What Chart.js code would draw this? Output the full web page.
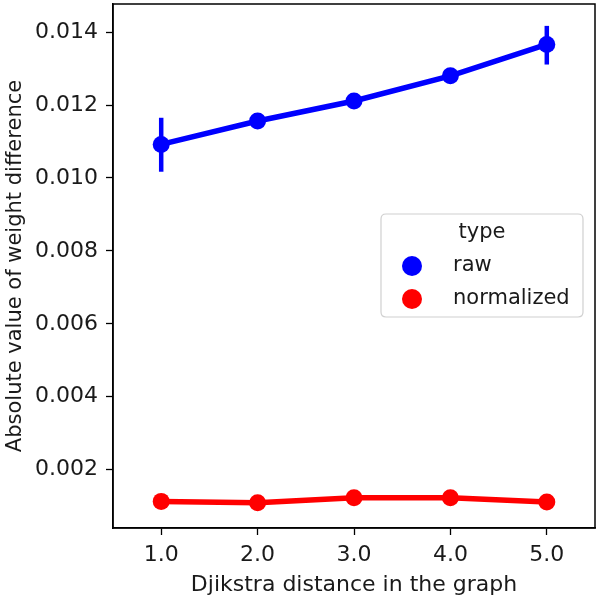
<!DOCTYPE html>
<html>
<head>
<meta charset="utf-8">
<script src="https://cdn.jsdelivr.net/npm/chart.js@4/dist/chart.umd.min.js"></script>
<style>
html,body{margin:0;padding:0;background:#fff;}
#wrap{width:600px;height:599px;position:relative;}
</style>
</head>
<body>
<div id="wrap"><canvas id="c" width="600" height="599"></canvas></div>
<script>
const categories = ['1.0', '2.0', '3.0', '4.0', '5.0'];
const rawValues = [0.01092, 0.01156, 0.01211, 0.01280, 0.01366];
const rawLow = [0.01017, null, null, null, 0.01311];
const rawHigh = [0.01165, null, null, null, 0.01417];
const normValues = [0.00113, 0.00109, 0.00123, 0.00123, 0.00111];
const yTicks = [0.002, 0.004, 0.006, 0.008, 0.010, 0.012, 0.014];
const legendTitle = 'type';
const xTitle = 'Djikstra distance in the graph';
const yTitle = 'Absolute value of weight difference';

const FONT = "'DejaVu Sans', sans-serif";
const TXT = '#1a1a1a';

const errorBars = {
  id: 'errorBars',
  afterDatasetsDraw(chart) {
    const ctx = chart.ctx;
    const xs = chart.scales.x, ys = chart.scales.y;
    ctx.save();
    ctx.strokeStyle = '#0000ff';
    ctx.lineWidth = 4.5;
    ctx.lineCap = 'butt';
    for (let i = 0; i < categories.length; i++) {
      if (rawLow[i] == null || rawHigh[i] == null) continue;
      const x = xs.getPixelForValue(i);
      ctx.beginPath();
      ctx.moveTo(x, ys.getPixelForValue(rawLow[i]));
      ctx.lineTo(x, ys.getPixelForValue(rawHigh[i]));
      ctx.stroke();
    }
    ctx.restore();
  }
};

const frameAndLegend = {
  id: 'frameAndLegend',
  afterDraw(chart) {
    const ctx = chart.ctx;
    const a = chart.chartArea;
    ctx.save();
    ctx.strokeStyle = '#000';
    ctx.lineWidth = 1.5;
    ctx.strokeRect(a.left, a.top, a.right - a.left, a.bottom - a.top);

    const bx = 381, by = 214, bw = 202, bh = 103, r = 5;
    ctx.beginPath();
    ctx.moveTo(bx + r, by);
    ctx.lineTo(bx + bw - r, by);
    ctx.quadraticCurveTo(bx + bw, by, bx + bw, by + r);
    ctx.lineTo(bx + bw, by + bh - r);
    ctx.quadraticCurveTo(bx + bw, by + bh, bx + bw - r, by + bh);
    ctx.lineTo(bx + r, by + bh);
    ctx.quadraticCurveTo(bx, by + bh, bx, by + bh - r);
    ctx.lineTo(bx, by + r);
    ctx.quadraticCurveTo(bx, by, bx + r, by);
    ctx.closePath();
    ctx.fillStyle = 'rgba(255,255,255,0.8)';
    ctx.fill();
    ctx.strokeStyle = '#d0d0d0';
    ctx.lineWidth = 1.2;
    ctx.stroke();

    ctx.fillStyle = TXT;
    ctx.font = '21px ' + FONT;
    ctx.textBaseline = 'middle';
    ctx.textAlign = 'center';
    ctx.fillText(legendTitle, 482, 233);
    ctx.textAlign = 'left';
    const rows = [266, 299];
    chart.data.datasets.forEach((ds, i) => {
      ctx.beginPath();
      ctx.arc(412, rows[i], 10, 0, Math.PI * 2);
      ctx.fillStyle = ds.borderColor;
      ctx.fill();
      ctx.fillStyle = TXT;
      ctx.fillText(ds.label, 453, rows[i]);
    });
    ctx.restore();
  }
};

new Chart(document.getElementById('c'), {
  type: 'line',
  data: {
    labels: categories,
    datasets: [
      { label: 'raw', data: rawValues, borderColor: '#0000ff', backgroundColor: '#0000ff',
        borderWidth: 5.5, pointRadius: 8.5, pointHoverRadius: 8.5, pointBorderWidth: 0, tension: 0 },
      { label: 'normalized', data: normValues, borderColor: '#ff0000', backgroundColor: '#ff0000',
        borderWidth: 5.5, pointRadius: 8.5, pointHoverRadius: 8.5, pointBorderWidth: 0, tension: 0 }
    ]
  },
  options: {
    responsive: false,
    animation: false,
    events: [],
    layout: { autoPadding: false, padding: { top: 4, right: 5, left: 0, bottom: 0 } },
    plugins: { legend: { display: false }, tooltip: { enabled: false } },
    scales: {
      x: {
        type: 'category',
        offset: true,
        grid: { display: true, drawOnChartArea: false, tickLength: 7, tickColor: '#000', tickWidth: 1.3, offset: false },
        border: { display: true, color: '#000', width: 1.5 },
        ticks: { color: TXT, font: { family: FONT, size: 22 }, padding: 7, maxRotation: 0 },
        title: { display: true, text: xTitle, color: TXT, font: { family: FONT, size: 22 }, padding: { top: 0, bottom: 1 } },
        afterFit(s) { s.height = 71; s.paddingLeft = 0; s.paddingRight = 0; }
      },
      y: {
        type: 'linear',
        min: 0.0004,
        max: 0.01477,
        afterBuildTicks(s) { s.ticks = yTicks.map(v => ({ value: v })); },
        grid: { display: true, drawOnChartArea: false, tickLength: 7, tickColor: '#000', tickWidth: 1.3 },
        border: { display: true, color: '#000', width: 1.5 },
        ticks: { color: TXT, font: { family: FONT, size: 22 }, padding: 8, callback: v => v.toFixed(3) },
        title: { display: true, text: yTitle, color: TXT, font: { family: FONT, size: 21 }, padding: { top: 3, bottom: 0 } },
        afterFit(s) { s.width = 113; s.paddingTop = 0; s.paddingBottom = 0; }
      }
    }
  },
  plugins: [errorBars, frameAndLegend]
});
</script>
</body>
</html>
